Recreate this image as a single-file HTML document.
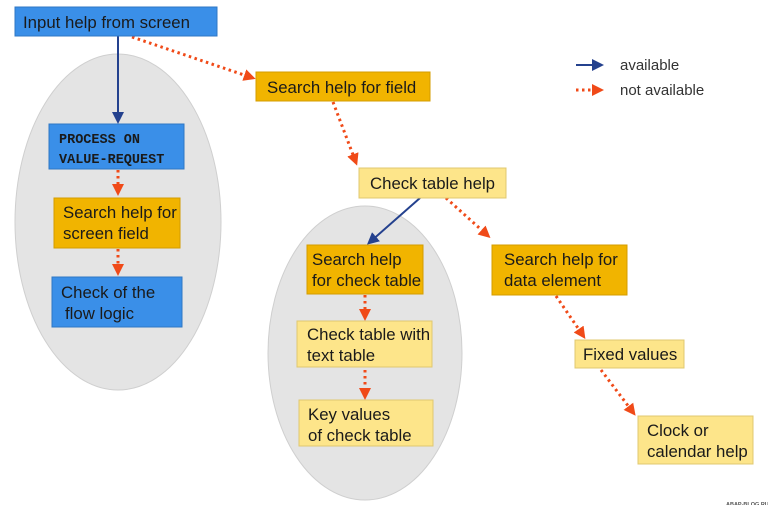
<!DOCTYPE html>
<html><head><meta charset="utf-8"><style>
html,body{margin:0;padding:0;background:#fff;}
svg{display:block;}
text{font-family:"Liberation Sans",sans-serif;font-size:16.8px;fill:#1a1a1a;}
.m{font-family:"Liberation Mono",monospace;font-size:13.5px;font-weight:bold;}
.d{fill:none;stroke:#f04a18;stroke-width:3;stroke-dasharray:2.5 3.5;}
.b{fill:none;stroke:#24418e;stroke-width:2;}
</style></head><body>
<svg width="768" height="505" viewBox="0 0 768 505">
<defs>
<marker id="ra" markerWidth="4" markerHeight="4" refX="2" refY="2" orient="auto" markerUnits="strokeWidth"><path d="M0,0 L4,2 L0,4 z" fill="#f04a18"/></marker>
<marker id="ba" markerWidth="6" markerHeight="6" refX="4" refY="3" orient="auto" markerUnits="strokeWidth"><path d="M0,0 L6,3 L0,6 z" fill="#24418e"/></marker>
</defs>
<ellipse cx="118" cy="222" rx="103" ry="168" fill="#e4e4e4" stroke="#cfcfcf"/>
<ellipse cx="365" cy="353" rx="97" ry="147" fill="#e4e4e4" stroke="#cfcfcf"/>

<line class="b" x1="118" y1="36" x2="118" y2="120" marker-end="url(#ba)"/>
<line class="d" x1="132" y1="37" x2="250" y2="77" marker-end="url(#ra)"/>
<line class="d" x1="333" y1="102" x2="355" y2="160" marker-end="url(#ra)"/>
<line class="b" x1="420" y1="198" x2="370" y2="242" marker-end="url(#ba)"/>
<line class="d" x1="446" y1="198" x2="486" y2="234" marker-end="url(#ra)"/>
<line class="d" x1="118" y1="170" x2="118" y2="190" marker-end="url(#ra)"/>
<line class="d" x1="118" y1="249" x2="118" y2="270" marker-end="url(#ra)"/>
<line class="d" x1="365" y1="295" x2="365" y2="315" marker-end="url(#ra)"/>
<line class="d" x1="365" y1="370" x2="365" y2="394" marker-end="url(#ra)"/>
<line class="d" x1="556" y1="296" x2="582" y2="334" marker-end="url(#ra)"/>
<line class="d" x1="601" y1="370" x2="632" y2="411" marker-end="url(#ra)"/>

<rect x="15" y="7" width="202" height="29" fill="#3a8fe8" stroke="#2f77c4"/>
<text x="23" y="28">Input help from screen</text>
<rect x="49" y="124" width="135" height="45" fill="#3a8fe8" stroke="#2f77c4"/>
<text class="m" x="59" y="143">PROCESS ON</text>
<text class="m" x="59" y="163">VALUE-REQUEST</text>
<rect x="54" y="198" width="126" height="50" fill="#f1b400" stroke="#d49d00"/>
<text x="63" y="218">Search help for</text>
<text x="63" y="239">screen field</text>
<rect x="52" y="277" width="130" height="50" fill="#3a8fe8" stroke="#2f77c4"/>
<text x="61" y="298">Check of the</text>
<text x="65" y="319">flow logic</text>

<rect x="256" y="72" width="174" height="29" fill="#f1b400" stroke="#d49d00"/>
<text x="267" y="93">Search help for field</text>
<rect x="359" y="168" width="147" height="30" fill="#fde58a" stroke="#e0c870"/>
<text x="370" y="189">Check table help</text>

<rect x="307" y="245" width="116" height="49" fill="#f1b400" stroke="#d49d00"/>
<text x="312" y="265">Search help</text>
<text x="312" y="286">for check table</text>
<rect x="297" y="321" width="135" height="46" fill="#fde58a" stroke="#e0c870"/>
<text x="307" y="340">Check table with</text>
<text x="307" y="361">text table</text>
<rect x="299" y="400" width="134" height="46" fill="#fde58a" stroke="#e0c870"/>
<text x="308" y="420">Key values</text>
<text x="308" y="441">of check table</text>

<rect x="492" y="245" width="135" height="50" fill="#f1b400" stroke="#d49d00"/>
<text x="504" y="265">Search help for</text>
<text x="504" y="286">data element</text>
<rect x="575" y="340" width="109" height="28" fill="#fde58a" stroke="#e0c870"/>
<text x="583" y="360">Fixed values</text>
<rect x="638" y="416" width="115" height="48" fill="#fde58a" stroke="#e0c870"/>
<text x="647" y="436">Clock or</text>
<text x="647" y="457">calendar help</text>

<line class="b" x1="576" y1="65" x2="600" y2="65" marker-end="url(#ba)"/>
<text x="620" y="70" style="font-size:15px;fill:#333">available</text>
<line class="d" x1="576" y1="90" x2="598" y2="90" marker-end="url(#ra)"/>
<text x="620" y="95" style="font-size:15px;fill:#333">not available</text>

<text x="726" y="506" style="font-size:5.5px;font-weight:bold;fill:#555">ABAP-BLOG.RU</text>
</svg>
</body></html>
